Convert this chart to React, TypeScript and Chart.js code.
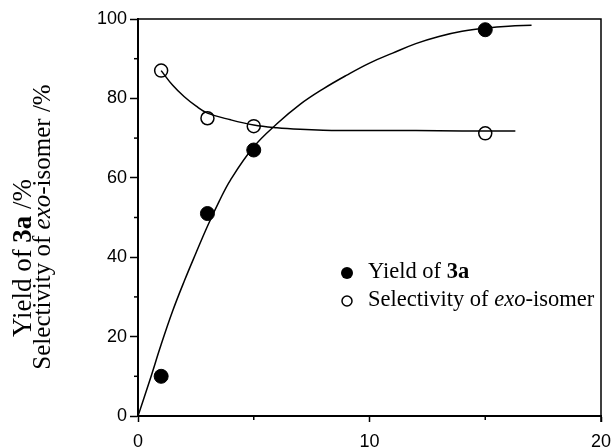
import React, { useEffect, useRef } from "react";
import { Chart, registerables } from "chart.js";

Chart.register(...registerables);

// Measured points
const pointX = [1, 3, 5, 15];
const yieldPoints = [10, 51, 67, 97.3];
const selectivityPoints = [87, 75, 73, 71.2];

// Fitted curves
const yieldCurveX = [0, 0.5, 1, 1.5, 2, 2.5, 3, 3.5, 4, 5, 6, 7, 8, 9, 10, 11, 12, 13, 14, 15, 16, 17];
const yieldCurveY = [0, 8.8, 18, 26.5, 34, 41, 47.8, 54, 59.5, 67.8, 73.6, 78.5, 82.4, 85.8, 88.9, 91.4, 93.8, 95.6, 96.9, 97.7, 98.2, 98.4];
const selCurveX = [1, 1.5, 2, 2.5, 3, 4, 5, 6, 7, 8, 10, 12, 14, 16.3];
const selCurveY = [87, 83.3, 80.4, 78.1, 76.3, 74.6, 73.3, 72.6, 72.2, 72.0, 71.9, 71.9, 71.8, 71.8];

// Axis ticks
const xMajorTicks = [0, 10, 20];
const xMinorTicks = [5, 15];
const yMajorTicks = [0, 20, 40, 60, 80, 100];
const yMinorTicks = [10, 30, 50, 70, 90];

const SERIF = "'Liberation Serif', 'Times New Roman', serif";
const SANS = "'Liberation Sans', Arial, sans-serif";

type Seg = { t: string; f: string };

function drawSegs(ctx: CanvasRenderingContext2D, segs: Seg[], x: number, y: number, align: "left" | "center") {
  let total = 0;
  for (const s of segs) {
    ctx.font = s.f;
    total += ctx.measureText(s.t).width;
  }
  let cx = align === "center" ? x - total / 2 : x;
  ctx.textAlign = "left";
  ctx.textBaseline = "alphabetic";
  for (const s of segs) {
    ctx.font = s.f;
    ctx.fillText(s.t, cx, y);
    cx += ctx.measureText(s.t).width;
  }
}

const decorPlugin = {
  id: "decor",
  afterDraw(chart: any) {
    const { ctx, chartArea } = chart;
    const xs = chart.scales.x;
    const ys = chart.scales.y;
    ctx.save();
    ctx.strokeStyle = "#000";
    ctx.fillStyle = "#000";
    // frame top and right
    ctx.lineWidth = 1.5;
    ctx.beginPath();
    ctx.moveTo(chartArea.left, chartArea.top);
    ctx.lineTo(chartArea.right, chartArea.top);
    ctx.lineTo(chartArea.right, chartArea.bottom + 6);
    ctx.stroke();
    // minor ticks
    ctx.lineWidth = 1.5;
    for (const v of yMinorTicks) {
      const py = ys.getPixelForValue(v);
      ctx.beginPath();
      ctx.moveTo(chartArea.left - 4, py);
      ctx.lineTo(chartArea.left, py);
      ctx.stroke();
    }
    for (const v of xMinorTicks) {
      const px = xs.getPixelForValue(v);
      ctx.beginPath();
      ctx.moveTo(px, chartArea.bottom);
      ctx.lineTo(px, chartArea.bottom + 4);
      ctx.stroke();
    }
    // y-axis title (two lines, rotated)
    ctx.save();
    ctx.translate(31, 258);
    ctx.rotate(-Math.PI / 2);
    drawSegs(ctx, [
      { t: "Yield of ", f: `27px ${SERIF}` },
      { t: "3a", f: `bold 27px ${SERIF}` },
      { t: " /%", f: `27px ${SERIF}` },
    ], 0, 0, "center");
    ctx.restore();
    ctx.save();
    ctx.translate(50, 227);
    ctx.rotate(-Math.PI / 2);
    drawSegs(ctx, [
      { t: "Selectivity of ", f: `25px ${SERIF}` },
      { t: "exo", f: `italic 25px ${SERIF}` },
      { t: "-isomer /%", f: `25px ${SERIF}` },
    ], 0, 0, "center");
    ctx.restore();
    // legend
    const lx = 347;
    ctx.beginPath();
    ctx.arc(lx, 273, 6, 0, Math.PI * 2);
    ctx.fill();
    ctx.beginPath();
    ctx.arc(lx, 301, 5, 0, Math.PI * 2);
    ctx.fillStyle = "#fff";
    ctx.fill();
    ctx.lineWidth = 1.5;
    ctx.stroke();
    ctx.fillStyle = "#000";
    drawSegs(ctx, [
      { t: "Yield of ", f: `22.5px ${SERIF}` },
      { t: "3a", f: `bold 22.5px ${SERIF}` },
    ], 368, 278, "left");
    drawSegs(ctx, [
      { t: "Selectivity of ", f: `22.5px ${SERIF}` },
      { t: "exo", f: `italic 22.5px ${SERIF}` },
      { t: "-isomer", f: `22.5px ${SERIF}` },
    ], 368, 306, "left");
    ctx.restore();
  },
};

export default function App() {
  const ref = useRef<HTMLCanvasElement | null>(null);
  useEffect(() => {
    document.body.style.margin = "0";
    const canvas = ref.current;
    if (!canvas) return;
    const toXY = (xs: number[], ys: number[]) => xs.map((x, i) => ({ x, y: ys[i] }));
    const chart = new Chart(canvas, {
      type: "scatter",
      data: {
        datasets: [
          {
            data: toXY(yieldCurveX, yieldCurveY),
            showLine: true,
            borderColor: "#000",
            borderWidth: 1.5,
            pointRadius: 0,
            tension: 0.4,
          } as any,
          {
            data: toXY(selCurveX, selCurveY),
            showLine: true,
            borderColor: "#000",
            borderWidth: 1.5,
            pointRadius: 0,
            tension: 0.4,
          } as any,
          {
            data: toXY(pointX, selectivityPoints),
            showLine: false,
            pointRadius: 6.5,
            pointBackgroundColor: "#fff",
            pointBorderColor: "#000",
            pointBorderWidth: 1.5,
          },
          {
            data: toXY(pointX, yieldPoints),
            showLine: false,
            pointRadius: 7,
            pointBackgroundColor: "#000",
            pointBorderColor: "#000",
            pointBorderWidth: 1,
          },
        ],
      },
      options: {
        animation: false,
        responsive: false,
        layout: { padding: { top: 19, right: 12, left: 0, bottom: 0 } },
        plugins: { legend: { display: false }, tooltip: { enabled: false } },
        scales: {
          x: {
            type: "linear",
            min: 0,
            max: 20,
            afterBuildTicks: (s: any) => {
              s.ticks = xMajorTicks.map((v) => ({ value: v }));
            },
            afterFit: (s: any) => {
              s.height = 32;
              s.paddingLeft = 0;
              s.paddingRight = 0;
            },
            ticks: { color: "#000", font: { family: SANS, size: 18 }, padding: 9, maxRotation: 0 },
            grid: { drawOnChartArea: false, tickLength: 6, tickColor: "#000", tickWidth: 1.5 },
            border: { color: "#000", width: 2 },
          },
          y: {
            type: "linear",
            min: 0,
            max: 100,
            afterBuildTicks: (s: any) => {
              s.ticks = yMajorTicks.map((v) => ({ value: v }));
            },
            afterFit: (s: any) => {
              s.width = 138;
              s.paddingTop = 0;
              s.paddingBottom = 0;
            },
            ticks: { color: "#000", font: { family: SANS, size: 18 }, padding: 3 },
            grid: { drawOnChartArea: false, tickLength: 8, tickColor: "#000", tickWidth: 1.5 },
            border: { color: "#000", width: 2 },
          },
        },
      } as any,
      plugins: [decorPlugin],
    });
    return () => chart.destroy();
  }, []);
  return (
    <div style={{ width: 613, height: 448, background: "#fff" }}>
      <canvas ref={ref} width={613} height={448} style={{ display: "block" }} />
    </div>
  );
}
